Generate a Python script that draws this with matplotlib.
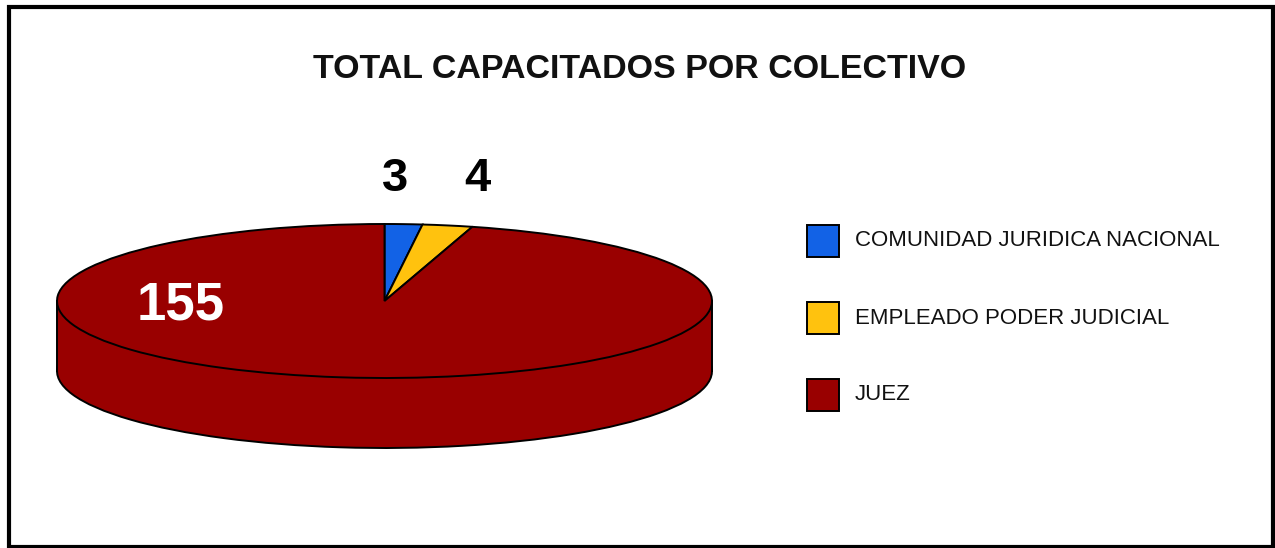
import matplotlib
matplotlib.use("Agg")
import matplotlib.pyplot as plt
from matplotlib.patches import Rectangle

# data
categorias = ['COMUNIDAD JURIDICA NACIONAL', 'EMPLEADO PODER JUDICIAL', 'JUEZ']
valores = [3, 4, 155]
colores = ['#1262E6', '#FFC20E', '#990000']
titulo = 'TOTAL CAPACITADOS POR COLECTIVO'

W, H = 1275, 548
plt.rcParams['font.family'] = ['Liberation Sans', 'DejaVu Sans']

fig = plt.figure(figsize=(W / 100, H / 100), dpi=100)


def fx(px):
    return px / W


def fy(py):
    return 1 - py / H


# outer frame
fig.patches.append(Rectangle((fx(9), fy(546.5)), fx(1272.5) - fx(9), fy(7) - fy(546.5),
                             transform=fig.transFigure, fill=False,
                             edgecolor='black', linewidth=3))

fig.text(fx(640), fy(69), titulo, ha='center', va='center',
         fontsize=24.5, fontweight='bold', color='#111111')

# pie axes (flattened ellipse -> 3d look)
cx, cy = 384.5, 301
rx, ry = 327.5, 77
depth = 70 / ry
left, right, top, bottom = 47, 722, 210, 460
ax = fig.add_axes([fx(left), fy(bottom), fx(right) - fx(left), fy(top) - fy(bottom)])

wp = dict(edgecolor='black', linewidth=1.4)
# bottom face
ax.pie(valores, colors=colores, startangle=90, counterclock=False,
       center=(0, -depth), wedgeprops=wp)
# side wall
ax.add_patch(Rectangle((-1, -depth), 2, depth, facecolor=colores[2], edgecolor='none'))
ax.plot([-1, -1], [-depth, 0], color='black', lw=1.4)
ax.plot([1, 1], [-depth, 0], color='black', lw=1.4)
# top face
ax.pie(valores, colors=colores, startangle=90, counterclock=False,
       center=(0, 0), wedgeprops=wp)

ax.set_xlim((left - cx) / rx, (right - cx) / rx)
ax.set_ylim((cy - bottom) / ry, (cy - top) / ry)
ax.set_aspect('auto')
ax.axis('off')

# value labels
pos_etiquetas = [(395, 179, 'black'), (477, 179, 'black'), (181, 305, 'white')]
for v, (px, py, c) in zip(valores, pos_etiquetas):
    fs = 38 if c == 'white' else 34
    fig.text(fx(px), fy(py), str(v), ha='center', va='center',
             fontsize=fs, fontweight='bold', color=c)

# legend
for i, (cat, col) in enumerate(zip(categorias, colores)):
    yc = 241 + i * 77
    fig.patches.append(Rectangle((fx(807), fy(yc + 16)), fx(839) - fx(807), fy(yc - 16) - fy(yc + 16),
                                 transform=fig.transFigure, facecolor=col,
                                 edgecolor='black', linewidth=1.4))
    fig.text(fx(855), fy(yc), cat, ha='left', va='center', fontsize=16, color='#111111')

fig.savefig('out.png', dpi=100)
